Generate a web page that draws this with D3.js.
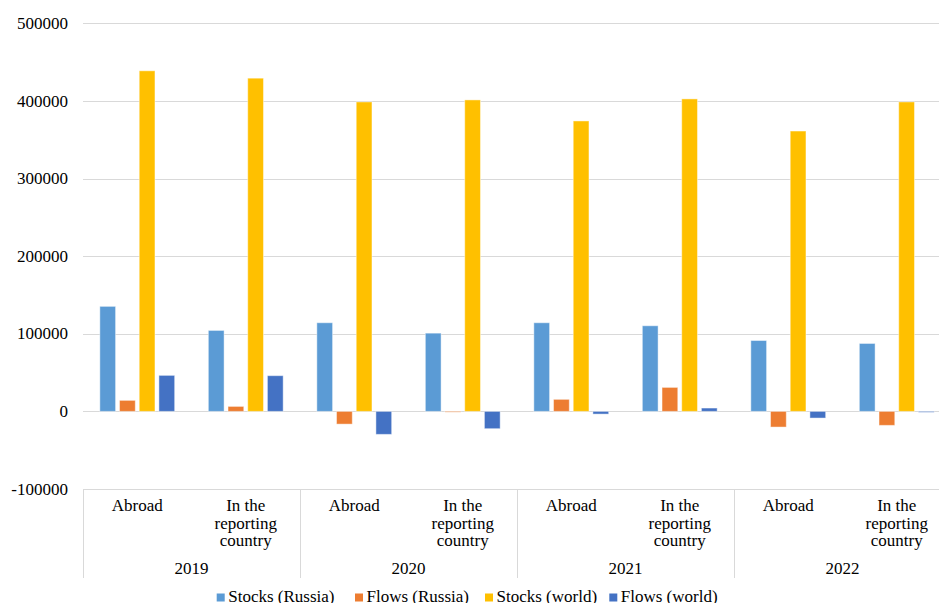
<!DOCTYPE html>
<html>
<head>
<meta charset="utf-8">
<script src="https://cdn.jsdelivr.net/npm/d3@7"></script>
<style>
  html, body { margin: 0; padding: 0; background: #fff; }
  svg { display: block; font-family: "Liberation Serif", "Times New Roman", serif; }
</style>
</head>
<body>
<div id="chart"></div>
<script>
// Data
const years = ['2019', '2020', '2021', '2022'];
const locations = ['Abroad', 'In the reporting country'];
const locationLines = [['Abroad'], ['In the', 'reporting', 'country']];
const seriesNames = ['Stocks (Russia)', 'Flows (Russia)', 'Stocks (world)', 'Flows (world)'];
const seriesColors = ['#5B9BD5', '#ED7D31', '#FFC000', '#4472C4'];

const stocksRussia = [135300, 104300, 114200, 100800, 114200, 110300, 91300, 87500];
const flowsRussia = [14200, 6400, -16400, -1000, 15500, 30900, -20200, -18000];
const stocksWorld = [438800, 429300, 398700, 401300, 374200, 402600, 361200, 398700];
const flowsWorld = [46400, 46000, -29600, -22300, -3500, 4300, -8600, -1200];

const yTicks = [-100000, 0, 100000, 200000, 300000, 400000, 500000];

// Layout
const width = 939, height = 603;
const plot = { left: 83, right: 951, top: 23.3, bottom: 489 };

const svg = d3.select('#chart')
    .append('svg')
    .attr('width', width)
    .attr('height', height);

// Categories: one per (year, location)
const categories = [];
years.forEach(y => locations.forEach(l => categories.push(y + '|' + l)));
const seriesValues = [stocksRussia, flowsRussia, stocksWorld, flowsWorld];

const x0 = d3.scaleBand()
    .domain(categories)
    .range([plot.left, plot.right]);

const x1 = d3.scaleBand()
    .domain(d3.range(seriesNames.length))
    .range([0, x0.bandwidth()])
    .paddingInner(0.2)
    .paddingOuter(0.855);

const xYear = d3.scaleBand()
    .domain(years)
    .range([plot.left, plot.right]);

const y = d3.scaleLinear()
    .domain([-100000, 500000])
    .range([plot.bottom, plot.top]);

// Grid lines
svg.append('g')
    .selectAll('line')
    .data(yTicks)
    .join('line')
    .attr('x1', plot.left)
    .attr('x2', plot.right)
    .attr('y1', d => Math.round(y(d)) + 0.5)
    .attr('y2', d => Math.round(y(d)) + 0.5)
    .attr('stroke', '#d9d9d9')
    .attr('stroke-width', 1);

// Y axis labels
svg.append('g')
    .selectAll('text')
    .data(yTicks)
    .join('text')
    .attr('x', 68)
    .attr('y', d => y(d))
    .attr('dy', '0.33em')
    .attr('text-anchor', 'end')
    .style('font-size', '17px')
    .attr('fill', '#000')
    .text(d => d);

// Bars
const barData = [];
categories.forEach((c, i) => {
    seriesValues.forEach((vals, s) => barData.push({ cat: c, s, v: vals[i] }));
});

svg.append('g')
    .selectAll('rect')
    .data(barData)
    .join('rect')
    .attr('x', d => x0(d.cat) + x1(d.s))
    .attr('width', x1.bandwidth())
    .attr('y', d => y(Math.max(0, d.v)))
    .attr('height', d => Math.abs(y(d.v) - y(0)))
    .attr('fill', d => seriesColors[d.s])
    .attr('stroke', '#fff')
    .attr('stroke-opacity', 0.45)
    .attr('stroke-width', 1);

// Category axis: dividers between years
const dividers = years.map(yr => xYear(yr)).concat([plot.right]);
svg.append('g')
    .selectAll('line')
    .data(dividers)
    .join('line')
    .attr('x1', d => Math.round(d) + 0.5)
    .attr('x2', d => Math.round(d) + 0.5)
    .attr('y1', plot.bottom)
    .attr('y2', 578)
    .attr('stroke', '#d9d9d9')
    .attr('stroke-width', 1);

// Location labels
const locG = svg.append('g')
    .selectAll('text')
    .data(categories)
    .join('text')
    .attr('text-anchor', 'middle')
    .style('font-size', '17px')
    .attr('fill', '#000');

locG.each(function(c) {
    const loc = c.split('|')[1];
    const lines = locationLines[locations.indexOf(loc)];
    const cx = x0(c) + x0.bandwidth() / 2;
    d3.select(this).selectAll('tspan')
        .data(lines)
        .join('tspan')
        .attr('x', cx)
        .attr('y', (d, i) => 511 + i * 17.7)
        .text(d => d);
});

// Year labels
svg.append('g')
    .selectAll('text')
    .data(years)
    .join('text')
    .attr('x', d => xYear(d) + xYear.bandwidth() / 2)
    .attr('y', 573.5)
    .attr('text-anchor', 'middle')
    .style('font-size', '17px')
    .attr('fill', '#000')
    .text(d => d);

// Legend
const legendX = [216.7, 355, 485, 609.3];
const legend = svg.append('g')
    .selectAll('g')
    .data(seriesNames)
    .join('g')
    .attr('transform', (d, i) => `translate(${legendX[i]},0)`);

legend.append('rect')
    .attr('x', 0)
    .attr('y', 593.5)
    .attr('width', 8)
    .attr('height', 8)
    .attr('fill', (d, i) => seriesColors[i]);

legend.append('text')
    .attr('x', 11.5)
    .attr('y', 601.5)
    .style('font-size', '17px')
    .attr('fill', '#000')
    .text(d => d);
</script>
</body>
</html>
